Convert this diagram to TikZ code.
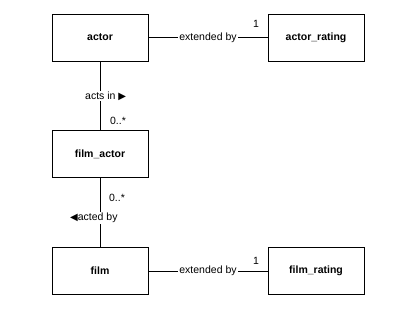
\documentclass[tikz,border=0pt]{standalone}
\usepackage{fontspec}
\setmainfont{Liberation Sans}
\newfontfamily\symfont{DejaVu Sans}
\begin{document}
\begin{tikzpicture}[x=1pt,y=-1pt,
  entity/.style={draw=black, line width=0.9pt, minimum width=96pt, minimum height=47pt,
    inner sep=0pt, font=\fontsize{10.5}{12}\selectfont\bfseries},
  rel/.style={draw=black, line width=0.9pt},
  lbl/.style={fill=white, inner sep=1pt, font=\fontsize{10.5}{12}\selectfont},
  mult/.style={inner sep=0pt, font=\fontsize{10.5}{12}\selectfont}]
\useasboundingbox (0,0) rectangle (406,311);
% entities
\node[entity] (actor) at (100,37.5) {actor};
\node[entity] (actorrating) at (316,37.5) {actor\_rating};
\node[entity] (filmactor) at (100,154) {film\_actor};
\node[entity] (film) at (100,271) {film};
\node[entity] (filmrating) at (316,271) {film\_rating};
% associations
\draw[rel] (actor) -- (actorrating)
  node[lbl, pos=0.5] {extended by};
\node[mult] at (256,24) {1};
\draw[rel] (actor) -- (filmactor);
\node[lbl, anchor=west] (actsin) at (84,96) {acts in {\symfont\fontsize{10}{12}\selectfont ▶}};
\node[mult] at (118,121) {0..*};
\draw[rel] (filmactor) -- (film);
\node[mult] at (117,198) {0..*};
\node[lbl, anchor=west] (actedby) at (69,218) {{\symfont\fontsize{10}{12}\selectfont ◀}acted by};
\draw[rel] (film) -- (filmrating)
  node[lbl, pos=0.5] {extended by};
\node[mult] at (256,261) {1};
\end{tikzpicture}
\end{document}
